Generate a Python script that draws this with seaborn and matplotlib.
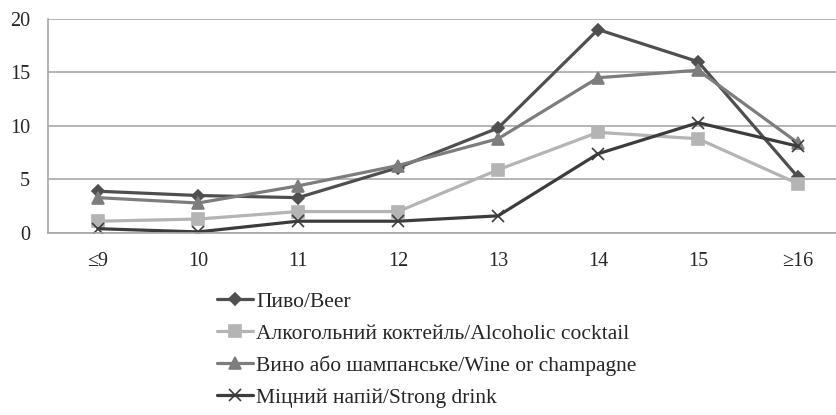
import pandas as pd
import matplotlib.pyplot as plt
import seaborn as sns

ages = ['≤9', '10', '11', '12', '13', '14', '15', '≥16']
beer = [3.9, 3.5, 3.3, 6.1, 9.8, 19.0, 16.0, 5.2]
cocktail = [1.1, 1.3, 2.0, 2.0, 5.9, 9.4, 8.8, 4.6]
wine = [3.3, 2.8, 4.4, 6.3, 8.8, 14.5, 15.2, 8.4]
strong = [0.4, 0.1, 1.1, 1.1, 1.6, 7.4, 10.3, 8.1]

names = ['Пиво/Beer', 'Алкогольний коктейль/Alcoholic cocktail',
         'Вино або шампанське/Wine or champagne', 'Міцний напій/Strong drink']
series = [beer, cocktail, wine, strong]
colors = ['#4f4f4f', '#b4b4b4', '#7d7d7d', '#3c3c3c']
markers = ['D', 's', '^', 'x']
msizes = [6, 8, 8, 9]

sns.set_style('white')
plt.rcParams['font.family'] = ['Liberation Serif', 'DejaVu Serif']

fig = plt.figure(figsize=(8.37, 4.15), dpi=100)
ax = fig.add_axes([0.0573, 0.4386, 0.956, 0.516])

pos = list(range(len(ages)))
for name, vals, c, m, ms in zip(names, series, colors, markers, msizes):
    df = pd.DataFrame({'pos': pos, 'value': vals})
    sns.lineplot(data=df, x='pos', y='value', color=c, marker=m, markersize=ms,
                 markeredgecolor=c, markeredgewidth=1.2, linewidth=2.3,
                 label=name, ax=ax)

ax.set_xlim(-0.5, 7.5)
ax.set_ylim(0, 20)
ax.set_yticks([0, 5, 10, 15, 20])
ax.set_xticks(pos)
ax.set_xticklabels(ages)
ax.set_xlabel('')
ax.set_ylabel('')
ax.tick_params(axis='both', labelsize=14.5, length=0)
ax.tick_params(axis='y', pad=13)
ax.tick_params(axis='x', pad=14)
ax.yaxis.grid(True, color='#a8a8a8', linewidth=1.2)
for s in ['top', 'right']:
    ax.spines[s].set_visible(False)
for s in ['left', 'bottom']:
    ax.spines[s].set_color('#a8a8a8')
    ax.spines[s].set_linewidth(1.2)

handles, labels = ax.get_legend_handles_labels()
ax.legend_.remove()
fig.legend(handles, labels, loc='upper left', bbox_to_anchor=(208 / 837, 1 - 283 / 415),
           frameon=False, fontsize=15.5, handlelength=1.7, handletextpad=0.15,
           labelspacing=0.55, borderaxespad=0)

fig.savefig('out.png', dpi=100)
